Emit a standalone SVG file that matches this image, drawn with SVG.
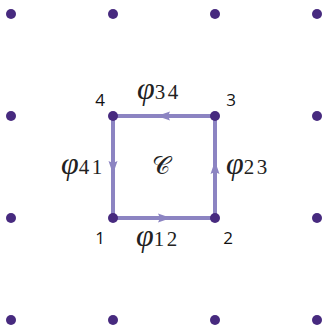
<svg xmlns="http://www.w3.org/2000/svg" width="322" height="330" viewBox="0 0 322 330">
<style>
.dot{fill:#472a7f}
.edge{stroke:#8c84c2;stroke-width:4;fill:none}
.ah{fill:#8c84c2}
.num{font-family:"Open Sans","Noto Sans",sans-serif;font-size:17px;fill:#111}
.phi{font-family:"Liberation Serif",serif;font-style:italic;font-size:32px;fill:#222}
.sub{font-family:"Liberation Serif",serif;font-size:21px;letter-spacing:2.5px;fill:#222}
.cal{font-family:"Liberation Serif","DejaVu Serif",serif;font-size:25px;fill:#222}
</style>
<g id="grid">
<circle class="dot" cx="11" cy="14" r="5"/><circle class="dot" cx="113" cy="14" r="5"/><circle class="dot" cx="215" cy="14" r="5"/><circle class="dot" cx="317" cy="14" r="5"/>
<circle class="dot" cx="11" cy="116" r="5"/><circle class="dot" cx="317" cy="116" r="5"/>
<circle class="dot" cx="11" cy="218" r="5"/><circle class="dot" cx="317" cy="218" r="5"/>
<circle class="dot" cx="11" cy="320" r="5"/><circle class="dot" cx="113" cy="320" r="5"/><circle class="dot" cx="215" cy="320" r="5"/><circle class="dot" cx="317" cy="320" r="5"/>
</g>
<g id="connectors">
<line class="edge" x1="113" y1="218" x2="215" y2="218"/>
<polygon class="ah" points="171,218 158,213.5 160,218 158,222.5"/>
<line class="edge" x1="215" y1="218" x2="215" y2="116"/>
<polygon class="ah" points="215,161 210.5,174 215,172 219.5,174"/>
<line class="edge" x1="215" y1="116" x2="113" y2="116"/>
<polygon class="ah" points="157,116 170,111.5 168,116 170,120.5"/>
<line class="edge" x1="113" y1="116" x2="113" y2="218"/>
<polygon class="ah" points="113,174 108.5,161 113,163 117.5,161"/>
</g>
<g id="node1"><circle class="dot" cx="113" cy="218" r="5"/><text class="num" x="100" y="244" text-anchor="middle">1</text></g>
<g id="node2"><circle class="dot" cx="215" cy="218" r="5"/><text class="num" x="228" y="244" text-anchor="middle">2</text></g>
<g id="node3"><circle class="dot" cx="215" cy="116" r="5"/><text class="num" x="231" y="106" text-anchor="middle">3</text></g>
<g id="node4"><circle class="dot" cx="113" cy="116" r="5"/><text class="num" x="100" y="106" text-anchor="middle">4</text></g>
<g id="labels">
<text x="137" y="99"><tspan class="phi">φ</tspan><tspan class="sub">34</tspan></text>
<text x="61" y="174"><tspan class="phi">φ</tspan><tspan class="sub">41</tspan></text>
<text x="226" y="174"><tspan class="phi">φ</tspan><tspan class="sub">23</tspan></text>
<text x="136" y="246"><tspan class="phi">φ</tspan><tspan class="sub">12</tspan></text>
<text class="cal" x="161" y="174" text-anchor="middle">𝒞</text>
</g>
</svg>
